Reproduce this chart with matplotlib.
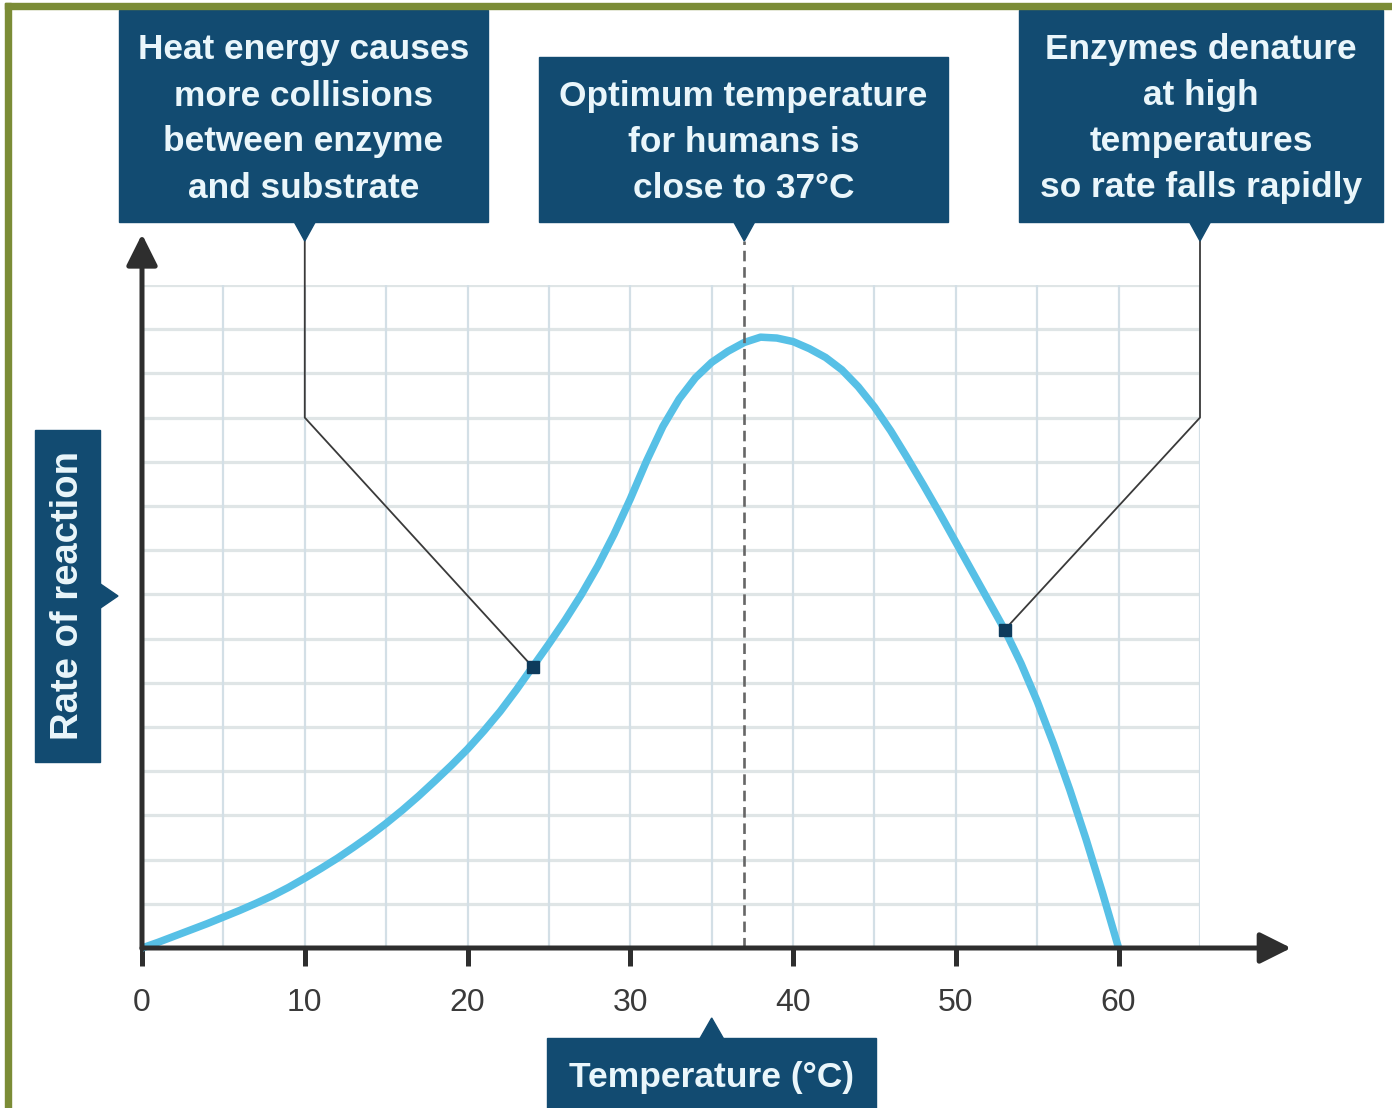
import matplotlib
matplotlib.use("Agg")
import matplotlib.pyplot as plt
from matplotlib.patches import Rectangle, Polygon, FancyArrowPatch

# ---- data -------------------------------------------------------------
temperature = list(range(0, 61))
rate = [0.00, 0.13, 0.27, 0.41, 0.55, 0.70, 0.85, 1.01, 1.18, 1.37,
        1.58, 1.80, 2.03, 2.28, 2.54, 2.82, 3.12, 3.44, 3.78, 4.13,
        4.50, 4.91, 5.35, 5.84, 6.36, 6.88, 7.42, 8.00, 8.64, 9.36,
        10.16, 11.02, 11.80, 12.42, 12.90, 13.25, 13.50, 13.70, 13.82, 13.80,
        13.72, 13.56, 13.36, 13.08, 12.70, 12.24, 11.70, 11.10, 10.48, 9.84,
        9.18, 8.52, 7.86, 7.20, 6.44, 5.58, 4.62, 3.58, 2.46, 1.26,
        0.00]

xtick_values = [0, 10, 20, 30, 40, 50, 60]
xtick_labels = ["0", "10", "20", "30", "40", "50", "60"]

callout_texts = [
    "Heat energy causes\nmore collisions\nbetween enzyme\nand substrate",
    "Optimum temperature\nfor humans is\nclose to 37°C",
    "Enzymes denature\nat high\ntemperatures\nso rate falls rapidly",
]
callout_anchor_temps = [10, 37, 65]
marked_temps = [24, 53]
optimum_temp = 37
elbow_rate = 12
x_label_text = "Temperature (°C)"
y_label_text = "Rate of reaction"

# ---- style ------------------------------------------------------------
W, H = 1392, 1108
FONT = ["Liberation Sans", "DejaVu Sans"]
plt.rcParams["font.family"] = FONT
BOX = "#124b71"
BOX_TEXT = "#eaf6fb"
AXIS = "#2e2e2e"
CURVE = "#57c0e6"
FRAME = "#7b8c36"

fig = plt.figure(figsize=(W / 100, H / 100), dpi=100)
fig.patch.set_facecolor("white")


def fx(px):
    return px / W


def fy(py):
    return 1 - py / H


ax = fig.add_axes([fx(142), fy(948), (1200 - 142) / W, (948 - 285) / H])
ax.set_xlim(0, 65)
ax.set_ylim(0, 15)
ax.patch.set_alpha(0)
for s in ax.spines.values():
    s.set_visible(False)

# grid
ax.hlines(range(1, 16), 0, 65, color="#dfe5e6", lw=2.3, zorder=1)
ax.vlines(range(5, 66, 5), 0, 15, color="#d3dfe6", lw=1.6, zorder=1)

# ticks
ax.set_xticks(xtick_values, xtick_labels)
ax.set_yticks([])
ax.tick_params(axis="x", length=13, width=3.6, color=AXIS, pad=16,
               labelsize=23, labelcolor="#3a3a3a", direction="out")

# axis arrows
arrow_style = "-|>,head_length=1.0,head_width=0.5"
for a, b in [((0, 0), (70.6, 0)), ((0, -0.02), (0, 16.15))]:
    ax.add_patch(FancyArrowPatch(a, b, arrowstyle=arrow_style, mutation_scale=19,
                                 lw=3.6, color=AXIS, shrinkA=0, shrinkB=0,
                                 clip_on=False, zorder=5))

# rate curve
ax.plot(temperature, rate, color=CURVE, lw=5.4, solid_capstyle="butt",
        solid_joinstyle="round", zorder=3, clip_on=False)


def data_y_of_pixel(py):
    return ax.transData.inverted().transform((0, H - py))[1]


def pixel_x_of_data(x):
    return ax.transData.transform((x, 0))[0]


tail_tip_y = data_y_of_pixel(241)

# optimum line
ax.plot([optimum_temp, optimum_temp], [0, tail_tip_y], color="#666666", lw=1.9,
        ls=(0, (4, 2.2)), zorder=4, clip_on=False)

# leader lines to the marked points
marked_rates = [rate[temperature.index(t)] for t in marked_temps]
for anchor, t, r in zip([callout_anchor_temps[0], callout_anchor_temps[2]],
                        marked_temps, marked_rates):
    ax.plot([anchor, anchor, t], [tail_tip_y, elbow_rate, r], color="#3a3a3a",
            lw=1.3, zorder=4, clip_on=False)
ax.plot(marked_temps, marked_rates, "s", ms=8.5, color="#0e3b5c", zorder=6)

# callout boxes
boxes = [(119, 488, 10, 222), (539, 948, 57, 222), (1019, 1383, 10, 222)]
for text, (l, r, t, b), anchor in zip(callout_texts, boxes, callout_anchor_temps):
    fig.add_artist(Rectangle((fx(l), fy(b)), (r - l) / W, (b - t) / H,
                             transform=fig.transFigure, color=BOX, zorder=2))
    px = pixel_x_of_data(anchor)
    fig.add_artist(Polygon([(fx(px - 11), fy(b - 1)), (fx(px + 11), fy(b - 1)),
                            (fx(px), fy(241))], closed=True,
                           transform=fig.transFigure, color=BOX, zorder=2))
    fig.text(fx((l + r) / 2), fy((t + b) / 2 + 3), text, ha="center", va="center",
             fontsize=25.4, fontweight="bold", color=BOX_TEXT, linespacing=1.5,
             zorder=3)

# x-axis title box
xl, xr, xt, xb = 547, 876, 1038, 1120
fig.add_artist(Rectangle((fx(xl), fy(xb)), (xr - xl) / W, (xb - xt) / H,
                         transform=fig.transFigure, color=BOX, zorder=2))
xc = pixel_x_of_data(35)
fig.add_artist(Polygon([(fx(xc - 12), fy(xt + 1)), (fx(xc + 12), fy(xt + 1)),
                        (fx(xc), fy(1018))], closed=True,
                       transform=fig.transFigure, color=BOX, zorder=2))
fig.text(fx((xl + xr) / 2), fy(1078), x_label_text, ha="center", va="center",
         fontsize=25.5, fontweight="bold", color=BOX_TEXT, zorder=3)

# y-axis title box
yl, yr, yt, yb = 35, 100, 430, 762
fig.add_artist(Rectangle((fx(yl), fy(yb)), (yr - yl) / W, (yb - yt) / H,
                         transform=fig.transFigure, color=BOX, zorder=2))
yc = (yt + yb) / 2
fig.add_artist(Polygon([(fx(yr - 1), fy(yc - 13)), (fx(yr - 1), fy(yc + 13)),
                        (fx(118), fy(yc))], closed=True,
                       transform=fig.transFigure, color=BOX, zorder=2))
fig.text(fx((yl + yr) / 2 + 1), fy(yc), y_label_text, ha="center", va="center",
         rotation=90, fontsize=27.5, fontweight="bold", color=BOX_TEXT, zorder=3)

# frame
fig.add_artist(Rectangle((fx(5), fy(9)), (W - 5) / W, 6 / H,
                         transform=fig.transFigure, color=FRAME, zorder=10))
fig.add_artist(Rectangle((fx(5), 0), 6 / W, fy(3),
                         transform=fig.transFigure, color=FRAME, zorder=10))

fig.savefig("out.png", dpi=100, facecolor="white")
